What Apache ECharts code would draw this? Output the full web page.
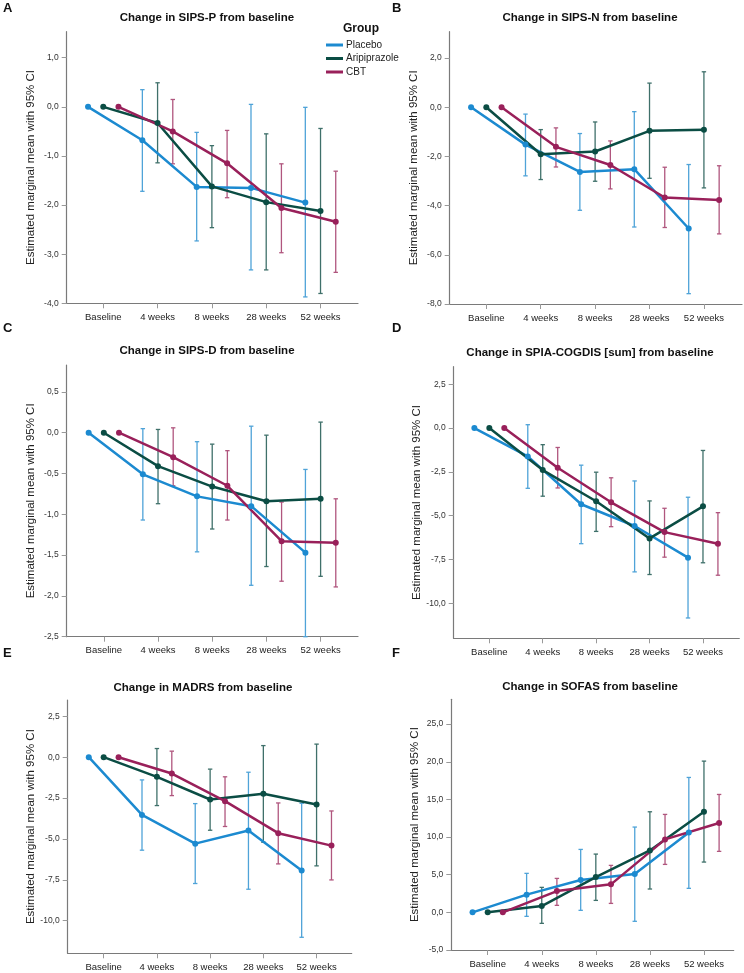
<!DOCTYPE html>
<html>
<head>
<meta charset="utf-8">
<script src="https://cdn.jsdelivr.net/npm/echarts@6/dist/echarts.min.js"></script>
<style>
  html, body { margin: 0; padding: 0; background: #fff; }
  #chart { width: 744px; height: 973px; }
</style>
</head>
<body>
<div id="chart"></div>
<script>
// time points and groups
const categories = ['Baseline', '4 weeks', '8 weeks', '28 weeks', '52 weeks'];
const groups = ['Placebo', 'Aripiprazole', 'CBT'];

// each row: [mean, upper 95% CI, lower 95% CI]; baseline has no CI
const sipsP_placebo = [[0], [-0.68, 0.35, -1.72], [-1.63, -0.52, -2.73], [-1.65, 0.05, -3.32], [-1.95, -0.01, -3.87]];
const sipsP_aripiprazole = [[0], [-0.33, 0.49, -1.14], [-1.62, -0.79, -2.46], [-1.94, -0.55, -3.32], [-2.12, -0.44, -3.80]];
const sipsP_cbt = [[0], [-0.50, 0.15, -1.16], [-1.15, -0.48, -1.85], [-2.06, -1.16, -2.97], [-2.34, -1.31, -3.37]];

const sipsN_placebo = [[0], [-1.52, -0.28, -2.79], [-2.63, -1.07, -4.19], [-2.52, -0.18, -4.87], [-4.93, -2.33, -7.58]];
const sipsN_aripiprazole = [[0], [-1.91, -0.91, -2.94], [-1.80, -0.60, -3.01], [-0.96, 0.98, -2.89], [-0.92, 1.44, -3.28]];
const sipsN_cbt = [[0], [-1.61, -0.84, -2.43], [-2.35, -1.37, -3.32], [-3.67, -2.44, -4.89], [-3.77, -2.38, -5.15]];

const sipsD_placebo = [[0], [-0.51, 0.05, -1.07], [-0.78, -0.11, -1.46], [-0.90, 0.08, -1.87], [-1.47, -0.45, -2.50]];
const sipsD_aripiprazole = [[0], [-0.41, 0.04, -0.87], [-0.66, -0.14, -1.18], [-0.84, -0.03, -1.64], [-0.81, 0.13, -1.76]];
const sipsD_cbt = [[0], [-0.30, 0.06, -0.65], [-0.65, -0.22, -1.07], [-1.33, -0.85, -1.82], [-1.35, -0.81, -1.89]];

const cogdis_placebo = [[0], [-1.62, 0.19, -3.44], [-4.35, -2.12, -6.60], [-5.59, -3.02, -8.21], [-7.40, -3.95, -10.84]];
const cogdis_aripiprazole = [[0], [-2.40, -0.95, -3.89], [-4.18, -2.52, -5.90], [-6.30, -4.16, -8.36], [-4.47, -1.28, -7.69]];
const cogdis_cbt = [[0], [-2.27, -1.11, -3.42], [-4.24, -2.84, -5.63], [-5.94, -4.58, -7.37], [-6.60, -4.83, -8.40]];

const madrs_placebo = [[0], [-3.53, -1.39, -5.69], [-5.29, -2.84, -7.73], [-4.49, -0.92, -8.08], [-6.94, -2.82, -11.02]];
const madrs_aripiprazole = [[0], [-1.20, 0.53, -2.96], [-2.59, -0.73, -4.47], [-2.24, 0.71, -5.20], [-2.90, 0.80, -6.65]];
const madrs_cbt = [[0], [-1.00, 0.37, -2.35], [-2.69, -1.20, -4.24], [-4.65, -2.80, -6.53], [-5.41, -3.29, -7.51]];

const sofas_placebo = [[0], [2.35, 5.18, -0.53], [4.29, 8.36, 0.27], [5.09, 11.33, -1.19], [10.62, 17.92, 3.19]];
const sofas_aripiprazole = [[0], [0.84, 3.32, -1.46], [4.69, 7.74, 1.59], [8.23, 13.36, 3.10], [13.36, 20.09, 6.68]];
const sofas_cbt = [[0], [2.83, 4.51, 0.93], [3.72, 6.24, 1.19], [9.69, 13.01, 6.37], [11.86, 15.66, 8.10]];

// y tick labels per panel
const sipsPTicks = [-4, -3, -2, -1, 0, 1];
const sipsNTicks = [-8, -6, -4, -2, 0, 2];
const sipsDTicks = [-2.5, -2, -1.5, -1, -0.5, 0, 0.5];
const cogdisTicks = [-10, -7.5, -5, -2.5, 0, 2.5];
const madrsTicks = [-10, -7.5, -5, -2.5, 0, 2.5];
const sofasTicks = [-5, 0, 5, 10, 15, 20, 25];

const lineColors = ['#1c8ad0', '#0b4d44', '#99205a'];
const barColors = ['#4fa3d8', '#3f706a', '#b0567e'];
const dodge = [-0.28, 0, 0.28];
const font = '"Liberation Sans", Arial, sans-serif';

const panels = [
  { letter: 'A', title: 'Change in SIPS-P from baseline', data: [sipsP_placebo, sipsP_aripiprazole, sipsP_cbt], ticks: sipsPTicks,
    yMin: -4, yMax: 1.53, xMin: -0.673, xMax: 4.69, grid: [66.7, 31.7, 291.3, 271.6], titleX: 207, titleY: 12, letterX: 3, letterY: 2 },
  { letter: 'B', title: 'Change in SIPS-N from baseline', data: [sipsN_placebo, sipsN_aripiprazole, sipsN_cbt], ticks: sipsNTicks,
    yMin: -8, yMax: 3.07, xMin: -0.673, xMax: 4.70, grid: [449.7, 31.7, 292.3, 272.3], titleX: 590, titleY: 12, letterX: 392, letterY: 2 },
  { letter: 'C', title: 'Change in SIPS-D from baseline', data: [sipsD_placebo, sipsD_aripiprazole, sipsD_cbt], ticks: sipsDTicks,
    yMin: -2.5, yMax: 0.83, xMin: -0.685, xMax: 4.69, grid: [66.7, 365, 291.3, 271.7], titleX: 207, titleY: 345, letterX: 3, letterY: 322 },
  { letter: 'D', title: 'Change in SPIA-COGDIS [sum] from baseline', data: [cogdis_placebo, cogdis_aripiprazole, cogdis_cbt], ticks: cogdisTicks,
    yMin: -12, yMax: 3.5, xMin: -0.667, xMax: 4.68, grid: [453.7, 366.7, 285.6, 271.6], titleX: 590, titleY: 347, letterX: 392, letterY: 322 },
  { letter: 'E', title: 'Change in MADRS from baseline', data: [madrs_placebo, madrs_aripiprazole, madrs_cbt], ticks: madrsTicks,
    yMin: -12, yMax: 3.5, xMin: -0.676, xMax: 4.66, grid: [67.7, 700, 284, 253.3], titleX: 203, titleY: 682, letterX: 3, letterY: 647 },
  { letter: 'F', title: 'Change in SOFAS from baseline', data: [sofas_placebo, sofas_aripiprazole, sofas_cbt], ticks: sofasTicks,
    yMin: -5, yMax: 28.3, xMin: -0.673, xMax: 4.55, grid: [451.3, 699.3, 282.4, 250.7], titleX: 590, titleY: 681, letterX: 392, letterY: 647 }
];

const fmt = v => v.toFixed(1).replace('.', ',');

const titles = [];
const grids = [];
const xAxes = [];
const yAxes = [];
const series = [];

panels.forEach((p, pi) => {
  titles.push({
    text: p.title, left: p.titleX, top: p.titleY, textAlign: 'center', padding: 0,
    textStyle: { fontFamily: font, fontSize: 11.5, fontWeight: 'bold', color: '#111' }
  });
  titles.push({
    text: p.letter, left: p.letterX, top: p.letterY, padding: 0,
    textStyle: { fontFamily: font, fontSize: 13, fontWeight: 'bold', color: '#111' }
  });
  grids.push({ left: p.grid[0], top: p.grid[1], width: p.grid[2], height: p.grid[3] });
  xAxes.push({
    type: 'value', gridIndex: pi, min: p.xMin, max: p.xMax,
    axisLine: { onZero: false, lineStyle: { color: '#7a7a7a', width: 1.2 } },
    axisTick: { customValues: [0, 1, 2, 3, 4], length: 5, lineStyle: { color: '#999' } },
    axisLabel: { customValues: [0, 1, 2, 3, 4], formatter: v => categories[Math.round(v)], margin: 9,
      fontFamily: font, fontSize: 9.5, color: '#222' },
    splitLine: { show: false }
  });
  yAxes.push({
    type: 'value', gridIndex: pi, min: p.yMin, max: p.yMax,
    name: 'Estimated marginal mean with 95% CI', nameLocation: 'middle', nameGap: 30,
    nameTextStyle: { fontFamily: font, fontSize: 11.5, color: '#222' },
    axisLine: { show: true, onZero: false, lineStyle: { color: '#7a7a7a', width: 1.2 } },
    axisTick: { show: true, customValues: p.ticks, length: 5, lineStyle: { color: '#999' } },
    axisLabel: { customValues: p.ticks, formatter: fmt, margin: 8, fontFamily: font, fontSize: 8.5, color: '#333' },
    splitLine: { show: false }
  });
  p.data.forEach((rows, gi) => {
    const pts = rows.map((r, i) => [i + dodge[gi], r[0]]);
    const bars = rows.filter(r => r.length === 3).map(r => [rows.indexOf(r) + dodge[gi], r[2], r[1]]);
    series.push({
      name: groups[gi] + ' CI', type: 'custom', xAxisIndex: pi, yAxisIndex: pi, z: 2,
      data: bars,
      renderItem: (params, api) => {
        const x = api.value(0);
        const lo = api.coord([x, api.value(1)]);
        const hi = api.coord([x, api.value(2)]);
        const style = { stroke: barColors[gi], lineWidth: 1.3 };
        const w = 2.2;
        return {
          type: 'group',
          children: [
            { type: 'line', shape: { x1: hi[0], y1: hi[1], x2: lo[0], y2: lo[1] }, style },
            { type: 'line', shape: { x1: hi[0] - w, y1: hi[1], x2: hi[0] + w, y2: hi[1] }, style },
            { type: 'line', shape: { x1: lo[0] - w, y1: lo[1], x2: lo[0] + w, y2: lo[1] }, style }
          ]
        };
      }
    });
    series.push({
      name: groups[gi], type: 'line', xAxisIndex: pi, yAxisIndex: pi, z: 3,
      data: pts, symbol: 'circle', symbolSize: 6, showSymbol: true,
      lineStyle: { color: lineColors[gi], width: 2.5 },
      itemStyle: { color: lineColors[gi] },
      animation: false
    });
  });
});

titles.push({
  text: 'Group', left: 343, top: 23, padding: 0,
  textStyle: { fontFamily: font, fontSize: 12, fontWeight: 'bold', color: '#111' }
});

const chart = echarts.init(document.getElementById('chart'));
chart.setOption({
  animation: false,
  backgroundColor: '#fff',
  title: titles,
  legend: {
    data: groups.map(g => ({ name: g, icon: 'rect' })),
    orient: 'vertical', left: 326, top: 40, padding: 0,
    itemWidth: 17, itemHeight: 3, itemGap: 3.5,
    textStyle: { fontFamily: font, fontSize: 10, color: '#222', padding: [0, 0, 0, -2] },
    selectedMode: false
  },
  grid: grids,
  xAxis: xAxes,
  yAxis: yAxes,
  series: series
});
</script>
</body>
</html>
